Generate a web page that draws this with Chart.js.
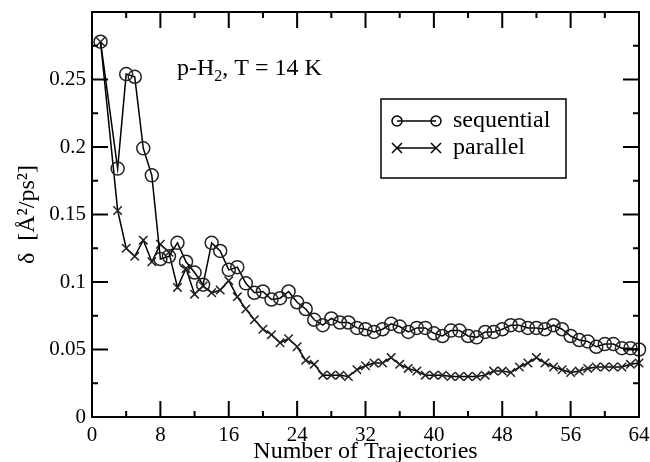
<!DOCTYPE html>
<html>
<head>
<meta charset="utf-8">
<script src="https://cdn.jsdelivr.net/npm/chart.js@4/dist/chart.umd.min.js"></script>
<style>
  html, body { margin: 0; padding: 0; background: #fff; }
  #wrap { width: 650px; height: 462px; }
</style>
</head>
<body>
<div id="wrap"><canvas id="c"></canvas></div>
<script>
// number of trajectories (no point at 2)
const trajectories = [1, 3, 4, 5, 6, 7, 8, 9, 10, 11, 12, 13, 14, 15, 16, 17, 18, 19, 20,
  21, 22, 23, 24, 25, 26, 27, 28, 29, 30, 31, 32, 33, 34, 35, 36, 37, 38, 39, 40,
  41, 42, 43, 44, 45, 46, 47, 48, 49, 50, 51, 52, 53, 54, 55, 56, 57, 58, 59, 60,
  61, 62, 63, 64];

const sequential = [0.278, 0.184, 0.254, 0.252, 0.199, 0.179, 0.117, 0.119, 0.129, 0.115,
  0.107, 0.098, 0.129, 0.123, 0.109, 0.111, 0.099, 0.092, 0.093, 0.087,
  0.088, 0.093, 0.085, 0.080, 0.072, 0.068, 0.073, 0.070, 0.070, 0.066,
  0.065, 0.063, 0.065, 0.069, 0.067, 0.063, 0.066, 0.066, 0.062, 0.060,
  0.064, 0.064, 0.060, 0.059, 0.063, 0.063, 0.065, 0.068, 0.068, 0.066,
  0.066, 0.065, 0.068, 0.065, 0.060, 0.057, 0.056, 0.052, 0.054, 0.054,
  0.051, 0.051, 0.050];

const parallel = [0.278, 0.153, 0.125, 0.119, 0.131, 0.115, 0.128, 0.122, 0.096, 0.110,
  0.091, 0.097, 0.092, 0.094, 0.101, 0.089, 0.080, 0.072, 0.065, 0.061,
  0.055, 0.058, 0.052, 0.042, 0.039, 0.031, 0.031, 0.031, 0.030, 0.035,
  0.038, 0.040, 0.040, 0.044, 0.039, 0.036, 0.034, 0.031, 0.031, 0.031,
  0.030, 0.030, 0.030, 0.030, 0.031, 0.034, 0.034, 0.033, 0.037, 0.040,
  0.044, 0.040, 0.037, 0.035, 0.033, 0.034, 0.036, 0.037, 0.037, 0.037,
  0.037, 0.039, 0.040];

const xTicks = [0, 8, 16, 24, 32, 40, 48, 56, 64];
const yTicks = [0, 0.05, 0.1, 0.15, 0.2, 0.25];

const serif = '"Liberation Serif", "DejaVu Serif", serif';

// frame with inward ticks on all four sides
const frameTicks = {
  id: 'frameTicks',
  afterDatasetsDraw(chart) {
    const { ctx, chartArea: a, scales: { x, y } } = chart;
    ctx.save();
    ctx.strokeStyle = '#000';
    ctx.lineWidth = 2;
    ctx.strokeRect(a.left, a.top, a.right - a.left, a.bottom - a.top);
    ctx.beginPath();
    const xt = x.ticks.map(t => t.value);
    xt.forEach((v, i) => {
      const p = x.getPixelForValue(v);
      ctx.moveTo(p, a.bottom); ctx.lineTo(p, a.bottom - 16);
      ctx.moveTo(p, a.top); ctx.lineTo(p, a.top + 16);
      if (i < xt.length - 1) {
        const m = x.getPixelForValue((v + xt[i + 1]) / 2);
        ctx.moveTo(m, a.bottom); ctx.lineTo(m, a.bottom - 6);
        ctx.moveTo(m, a.top); ctx.lineTo(m, a.top + 6);
      }
    });
    const yt = y.ticks.map(t => t.value);
    yt.forEach((v, i) => {
      const p = y.getPixelForValue(v);
      ctx.moveTo(a.left, p); ctx.lineTo(a.left + 16, p);
      ctx.moveTo(a.right, p); ctx.lineTo(a.right - 16, p);
      const next = i < yt.length - 1 ? yt[i + 1] : y.max;
      const m = y.getPixelForValue((v + next) / 2);
      ctx.moveTo(a.left, m); ctx.lineTo(a.left + 6, m);
      ctx.moveTo(a.right, m); ctx.lineTo(a.right - 6, m);
    });
    ctx.stroke();
    ctx.restore();
  }
};

// legend box and the p-H2 label
const notes = {
  id: 'notes',
  afterDraw(chart) {
    const ctx = chart.ctx;
    ctx.save();
    ctx.fillStyle = '#000';
    ctx.strokeStyle = '#000';
    ctx.textBaseline = 'alphabetic';
    ctx.font = '24px ' + serif;
    let tx = 177;
    ctx.fillText('p-H', tx, 75);
    tx += ctx.measureText('p-H').width;
    ctx.font = '16px ' + serif;
    ctx.fillText('2', tx, 81);
    tx += ctx.measureText('2').width;
    ctx.font = '24px ' + serif;
    ctx.fillText(', T = 14 K', tx, 75);

    ctx.lineWidth = 1.5;
    ctx.strokeRect(381, 99, 185, 79);
    const rows = [
      { y: 121, label: 'sequential', mark: 'circle' },
      { y: 148, label: 'parallel', mark: 'cross' }
    ];
    rows.forEach(r => {
      ctx.beginPath();
      ctx.moveTo(397, r.y); ctx.lineTo(436, r.y);
      ctx.stroke();
      [397, 436].forEach(cx => {
        ctx.beginPath();
        if (r.mark === 'circle') {
          ctx.arc(cx, r.y, 5, 0, Math.PI * 2);
        } else {
          ctx.moveTo(cx - 5, r.y - 5); ctx.lineTo(cx + 5, r.y + 5);
          ctx.moveTo(cx - 5, r.y + 5); ctx.lineTo(cx + 5, r.y - 5);
        }
        ctx.stroke();
      });
      ctx.font = '24px ' + serif;
      ctx.textBaseline = 'middle';
      ctx.fillText(r.label, 453, r.y);
    });
    ctx.restore();
  }
};

new Chart(document.getElementById('c'), {
  type: 'line',
  data: {
    datasets: [
      {
        label: 'sequential',
        data: trajectories.map((n, i) => ({ x: n, y: sequential[i] })),
        borderColor: '#000',
        borderWidth: 1.5,
        backgroundColor: 'rgba(0,0,0,0)',
        pointStyle: 'circle',
        pointRadius: 6.5,
        pointBorderWidth: 1.5,
        pointBorderColor: '#222',
        pointBackgroundColor: 'rgba(0,0,0,0)',
        tension: 0,
        clip: false
      },
      {
        label: 'parallel',
        data: trajectories.map((n, i) => ({ x: n, y: parallel[i] })),
        borderColor: '#000',
        borderWidth: 1.5,
        backgroundColor: 'rgba(0,0,0,0)',
        pointStyle: 'crossRot',
        pointRadius: 6,
        pointBorderWidth: 1.5,
        pointBorderColor: '#222',
        tension: 0,
        clip: false
      }
    ]
  },
  options: {
    responsive: true,
    maintainAspectRatio: false,
    animation: false,
    layout: { padding: { left: 0, right: 11, top: 12, bottom: 0 } },
    plugins: {
      legend: { display: false },
      tooltip: { enabled: false }
    },
    scales: {
      x: {
        type: 'linear',
        min: 0,
        max: 64,
        afterBuildTicks: s => { s.ticks = xTicks.map(v => ({ value: v })); },
        afterFit: s => { s.height = 45; s.paddingLeft = 0; s.paddingRight = 0; },
        grid: { display: false, drawTicks: false },
        border: { display: false },
        ticks: {
          padding: 6,
          color: '#000',
          font: { family: serif, size: 21 },
          maxRotation: 0
        },
        title: {
          display: true,
          text: 'Number of Trajectories',
          color: '#000',
          font: { family: serif, size: 24, lineHeight: 0.85 },
          padding: { top: 0, bottom: 0 }
        }
      },
      y: {
        min: 0,
        max: 0.3,
        afterBuildTicks: s => { s.ticks = yTicks.map(v => ({ value: v })); },
        afterFit: s => { s.width = 92; s.paddingTop = 0; s.paddingBottom = 0; },
        grid: { display: false, drawTicks: false },
        border: { display: false },
        ticks: {
          padding: 6,
          color: '#000',
          font: { family: serif, size: 21 },
          callback: v => String(parseFloat(v.toFixed(2)))
        },
        title: {
          display: true,
          text: 'δ  [Å²/ps²]',
          color: '#000',
          font: { family: serif, size: 24, lineHeight: 1 },
          padding: { top: 16, bottom: 0 }
        }
      }
    }
  },
  plugins: [frameTicks, notes]
});
</script>
</body>
</html>
